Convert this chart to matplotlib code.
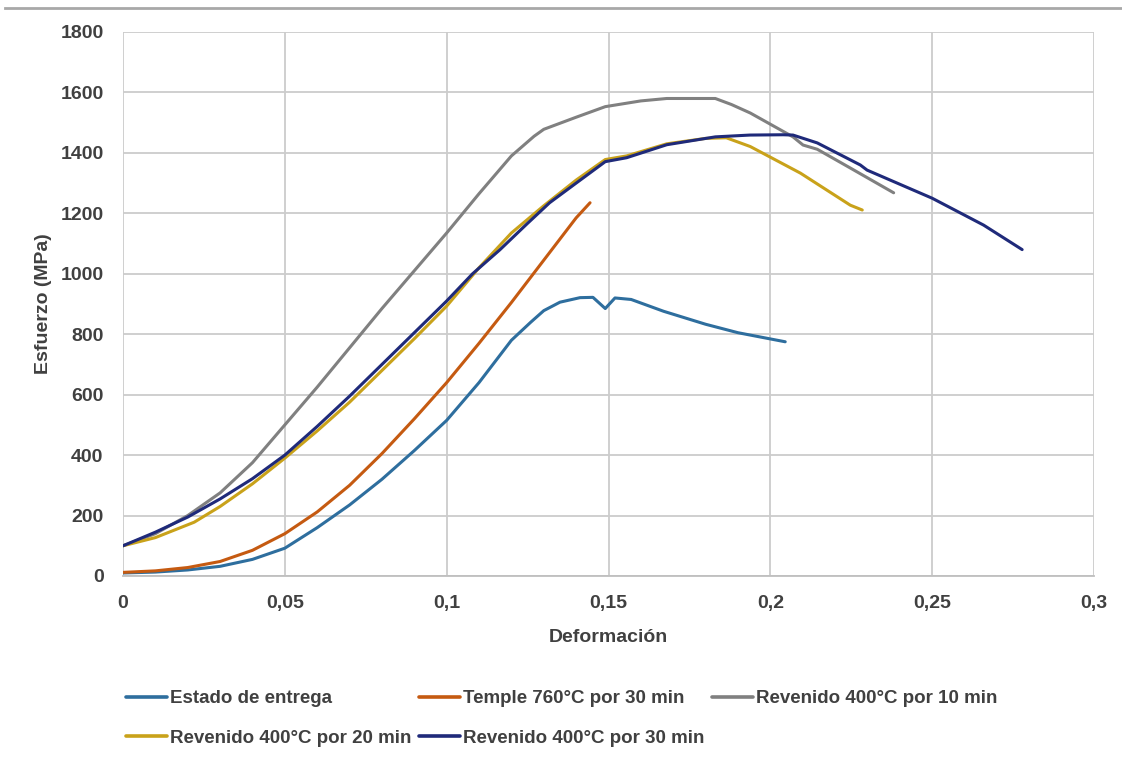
import matplotlib
matplotlib.use('Agg')
import matplotlib.pyplot as plt
from matplotlib.lines import Line2D
from matplotlib.ticker import FuncFormatter

plt.rcParams['font.family'] = ['Liberation Sans', 'DejaVu Sans']

# Estado de entrega
x_entrega = [0, 0.01, 0.02, 0.03, 0.04, 0.05, 0.06, 0.07, 0.08, 0.09,
             0.1, 0.11, 0.12, 0.126, 0.13, 0.135, 0.1412, 0.1452, 0.149,
             0.152, 0.157, 0.167, 0.18, 0.19, 0.2046]
y_entrega = [10, 13, 20, 32, 55, 92, 160, 235, 320, 415,
             515, 640, 780, 840, 878, 906, 921, 922, 885,
             920, 915, 876, 833, 805, 775]

# Temple 760°C por 30 min
x_temple = [0, 0.01, 0.02, 0.03, 0.04, 0.05, 0.06, 0.07, 0.08, 0.09, 0.1,
            0.11, 0.12, 0.13, 0.14, 0.1443]
y_temple = [12, 17, 28, 48, 85, 140, 212, 300, 405, 520, 640,
            770, 905, 1045, 1185, 1235]

# Revenido 400°C por 10 min
x_rev10 = [0, 0.01, 0.02, 0.03, 0.04, 0.05, 0.06, 0.07, 0.08, 0.09, 0.1,
           0.11, 0.12, 0.127, 0.13, 0.14, 0.149, 0.16, 0.168, 0.183, 0.188,
           0.1938, 0.207, 0.2101, 0.2145, 0.2247, 0.2381]
y_rev10 = [100, 140, 200, 275, 375, 500, 625, 755, 885, 1010, 1135,
           1265, 1390, 1455, 1478, 1518, 1553, 1572, 1580, 1580, 1560,
           1532, 1453, 1426, 1412, 1350, 1268]

# Revenido 400°C por 20 min
x_rev20 = [0, 0.01, 0.022, 0.03, 0.04, 0.05, 0.06, 0.07, 0.08, 0.09, 0.1, 0.11,
           0.12, 0.13, 0.14, 0.149, 0.1556, 0.168, 0.18, 0.1864, 0.1938, 0.2093,
           0.2247, 0.2284]
y_rev20 = [100, 127, 178, 230, 305, 390, 480, 575, 680, 785, 893, 1020,
           1135, 1225, 1310, 1378, 1390, 1430, 1448, 1450, 1421, 1333,
           1227, 1211]

# Revenido 400°C por 30 min
x_rev30 = [0, 0.01, 0.02, 0.03, 0.04, 0.05, 0.06, 0.07, 0.08, 0.09, 0.1, 0.108,
           0.1164, 0.1248, 0.1318, 0.14, 0.149, 0.1556, 0.168, 0.183, 0.1937, 0.204,
           0.207, 0.2145, 0.2278, 0.2299, 0.25, 0.2659, 0.2778]
y_rev30 = [100, 145, 195, 255, 322, 400, 495, 595, 700, 805, 910, 1000,
           1079, 1165, 1235, 1300, 1371, 1384, 1427, 1453, 1459, 1460,
           1459, 1433, 1360, 1343, 1250, 1161, 1080]

series = [
    (x_entrega, y_entrega, 'Estado de entrega', '#2e6e9e'),
    (x_temple, y_temple, 'Temple 760°C por 30 min', '#c55a11'),
    (x_rev10, y_rev10, 'Revenido 400°C por 10 min', '#808080'),
    (x_rev20, y_rev20, 'Revenido 400°C por 20 min', '#c9a21a'),
    (x_rev30, y_rev30, 'Revenido 400°C por 30 min', '#1f2a7a'),
]

x_ticks = [0, 0.05, 0.1, 0.15, 0.2, 0.25, 0.3]
y_ticks = [0, 200, 400, 600, 800, 1000, 1200, 1400, 1600, 1800]

txt = '#404040'

fig = plt.figure(figsize=(11.22, 7.61), dpi=100)
ax = fig.add_axes([123 / 1122, 1 - 576 / 761, (1094 - 123) / 1122, (576 - 32) / 761])

handles = []
for xs, ys, lab, col in series:
    h, = ax.plot(xs, ys, color=col, lw=2.2, label=lab, solid_capstyle='round', zorder=3)
    handles.append(h)

ax.set_xlim(0, 0.3)
ax.set_ylim(0, 1800)
ax.set_xticks(x_ticks)
ax.set_yticks(y_ticks)
ax.xaxis.set_major_formatter(FuncFormatter(lambda v, p: ('%g' % v).replace('.', ',')))
ax.grid(True, color='#cccccc', lw=1.3, zorder=0)
ax.tick_params(length=0, labelsize=14, labelcolor=txt, pad=14)
for lb in ax.get_xticklabels() + ax.get_yticklabels():
    lb.set_fontweight('bold')
for s in ['top', 'right', 'left']:
    ax.spines[s].set_visible(False)
ax.spines['bottom'].set_color('#bfbfbf')
ax.spines['bottom'].set_linewidth(1.3)

ax.set_xlabel('Deformación', fontsize=14, fontweight='bold', color=txt, labelpad=12)
ax.set_ylabel('Esfuerzo (MPa)', fontsize=14, fontweight='bold', color=txt, labelpad=6)

# column-wise fill -> reorder so rows read like the original
order = [0, 3, 1, 4, 2]
leg = fig.legend([handles[i] for i in order], [series[i][2] for i in order],
                 loc='upper left', bbox_to_anchor=(126 / 1122, 1 - 690 / 761), ncol=3,
                 frameon=False, handlelength=2.2, handletextpad=0.15,
                 columnspacing=0.4, labelspacing=1.2, borderpad=0, borderaxespad=0,
                 prop={'weight': 'bold', 'size': 13.5})
for t in leg.get_texts():
    t.set_color(txt)
for h in leg.get_lines():
    h.set_linewidth(2.6)

fig.add_artist(Line2D([5 / 1122, 1], [1 - 8 / 761, 1 - 8 / 761], color='#a8a8a8', lw=2))

fig.savefig('out.png', dpi=100)
